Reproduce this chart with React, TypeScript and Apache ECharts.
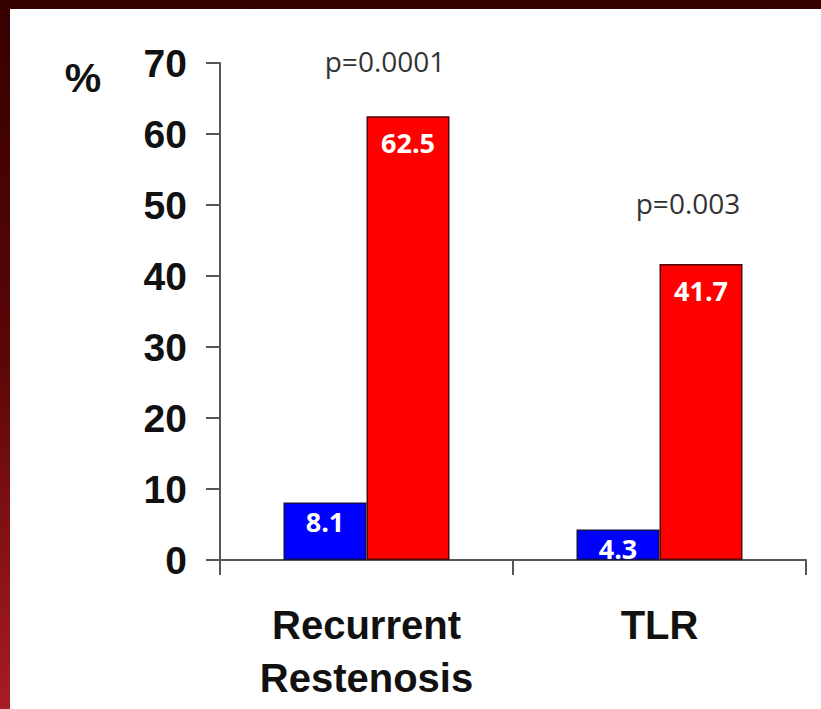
import React, { useEffect, useRef } from "react";
import * as echarts from "echarts";

// Outcome categories and the two arms' rates (%)
const categories = ["Recurrent\nRestenosis", "TLR"];
const blueArm = [8.1, 4.3];
const redArm = [62.5, 41.7];
const pValues = ["p=0.0001", "p=0.003"];
const yTicks = { min: 0, max: 70, interval: 10 };

const FRAME_LEFT = 10;
const FRAME_TOP = 9;
const W = 821;
const H = 709;

export default function App() {
  const ref = useRef<HTMLDivElement>(null);

  useEffect(() => {
    document.body.style.margin = "0";
    if (!ref.current) return;
    const chart = echarts.init(ref.current, undefined, { renderer: "svg" });

    const axisColor = "#555";
    const labelFont = "'Liberation Sans', Arial, sans-serif";
    const valueLabel = {
      show: true,
      position: "insideTop",
      color: "#ffffff",
      fontFamily: "'Open Sans', sans-serif",
      fontWeight: "bold",
      fontSize: 27,
    };

    chart.setOption({
      animation: false,
      backgroundColor: "#ffffff",
      grid: { left: 210, right: 15, top: 54, bottom: 149, containLabel: false },
      xAxis: {
        type: "category",
        data: categories,
        axisLine: { show: true, lineStyle: { color: axisColor, width: 2 } },
        axisTick: { show: true, length: 15, lineStyle: { color: axisColor, width: 2 } },
        axisLabel: {
          color: "#111",
          fontFamily: labelFont,
          fontWeight: "bold",
          fontSize: 40,
          lineHeight: 53,
          margin: 38,
        },
      },
      yAxis: {
        type: "value",
        min: yTicks.min,
        max: yTicks.max,
        interval: yTicks.interval,
        splitLine: { show: false },
        axisLine: { show: true, lineStyle: { color: axisColor, width: 2 } },
        axisTick: { show: true, length: 14, lineStyle: { color: axisColor, width: 2 } },
        axisLabel: {
          color: "#111",
          fontFamily: labelFont,
          fontWeight: "bold",
          fontSize: 39,
          margin: 33,
        },
      },
      series: [
        {
          type: "bar",
          data: blueArm,
          barWidth: 83,
          barGap: "0%",
          itemStyle: { color: "#0000ff", borderColor: "#10104a", borderWidth: 1.5 },
          label: { ...valueLabel, distance: 6 },
        },
        {
          type: "bar",
          data: redArm,
          barWidth: 83,
          barGap: "0%",
          itemStyle: { color: "#ff0000", borderColor: "#4a0a0a", borderWidth: 1.5 },
          label: { ...valueLabel, distance: 13 },
        },
      ],
      graphic: [
        {
          type: "text",
          x: 83 - FRAME_LEFT,
          y: 78 - FRAME_TOP,
          style: {
            text: "%",
            fill: "#111",
            font: `bold 41px ${labelFont}`,
            textAlign: "center",
            textVerticalAlign: "middle",
          },
        },
        {
          type: "text",
          x: 385 - FRAME_LEFT,
          y: 61 - FRAME_TOP,
          style: {
            text: pValues[0],
            fill: "#333",
            font: "28px 'Open Sans', sans-serif",
            textAlign: "center",
            textVerticalAlign: "middle",
          },
        },
        {
          type: "text",
          x: 688 - FRAME_LEFT,
          y: 203 - FRAME_TOP,
          style: {
            text: pValues[1],
            fill: "#333",
            font: "28px 'Open Sans', sans-serif",
            textAlign: "center",
            textVerticalAlign: "middle",
          },
        },
      ],
    });

    return () => chart.dispose();
  }, []);

  return (
    <div
      style={{
        position: "relative",
        width: W,
        height: H,
        background: "linear-gradient(to bottom, #360000 0%, #5a0606 50%, #a81c22 100%)",
        overflow: "hidden",
      }}
    >
      <div
        ref={ref}
        style={{
          position: "absolute",
          left: FRAME_LEFT,
          top: FRAME_TOP,
          width: W - FRAME_LEFT,
          height: H - FRAME_TOP,
          background: "#ffffff",
        }}
      />
    </div>
  );
}
